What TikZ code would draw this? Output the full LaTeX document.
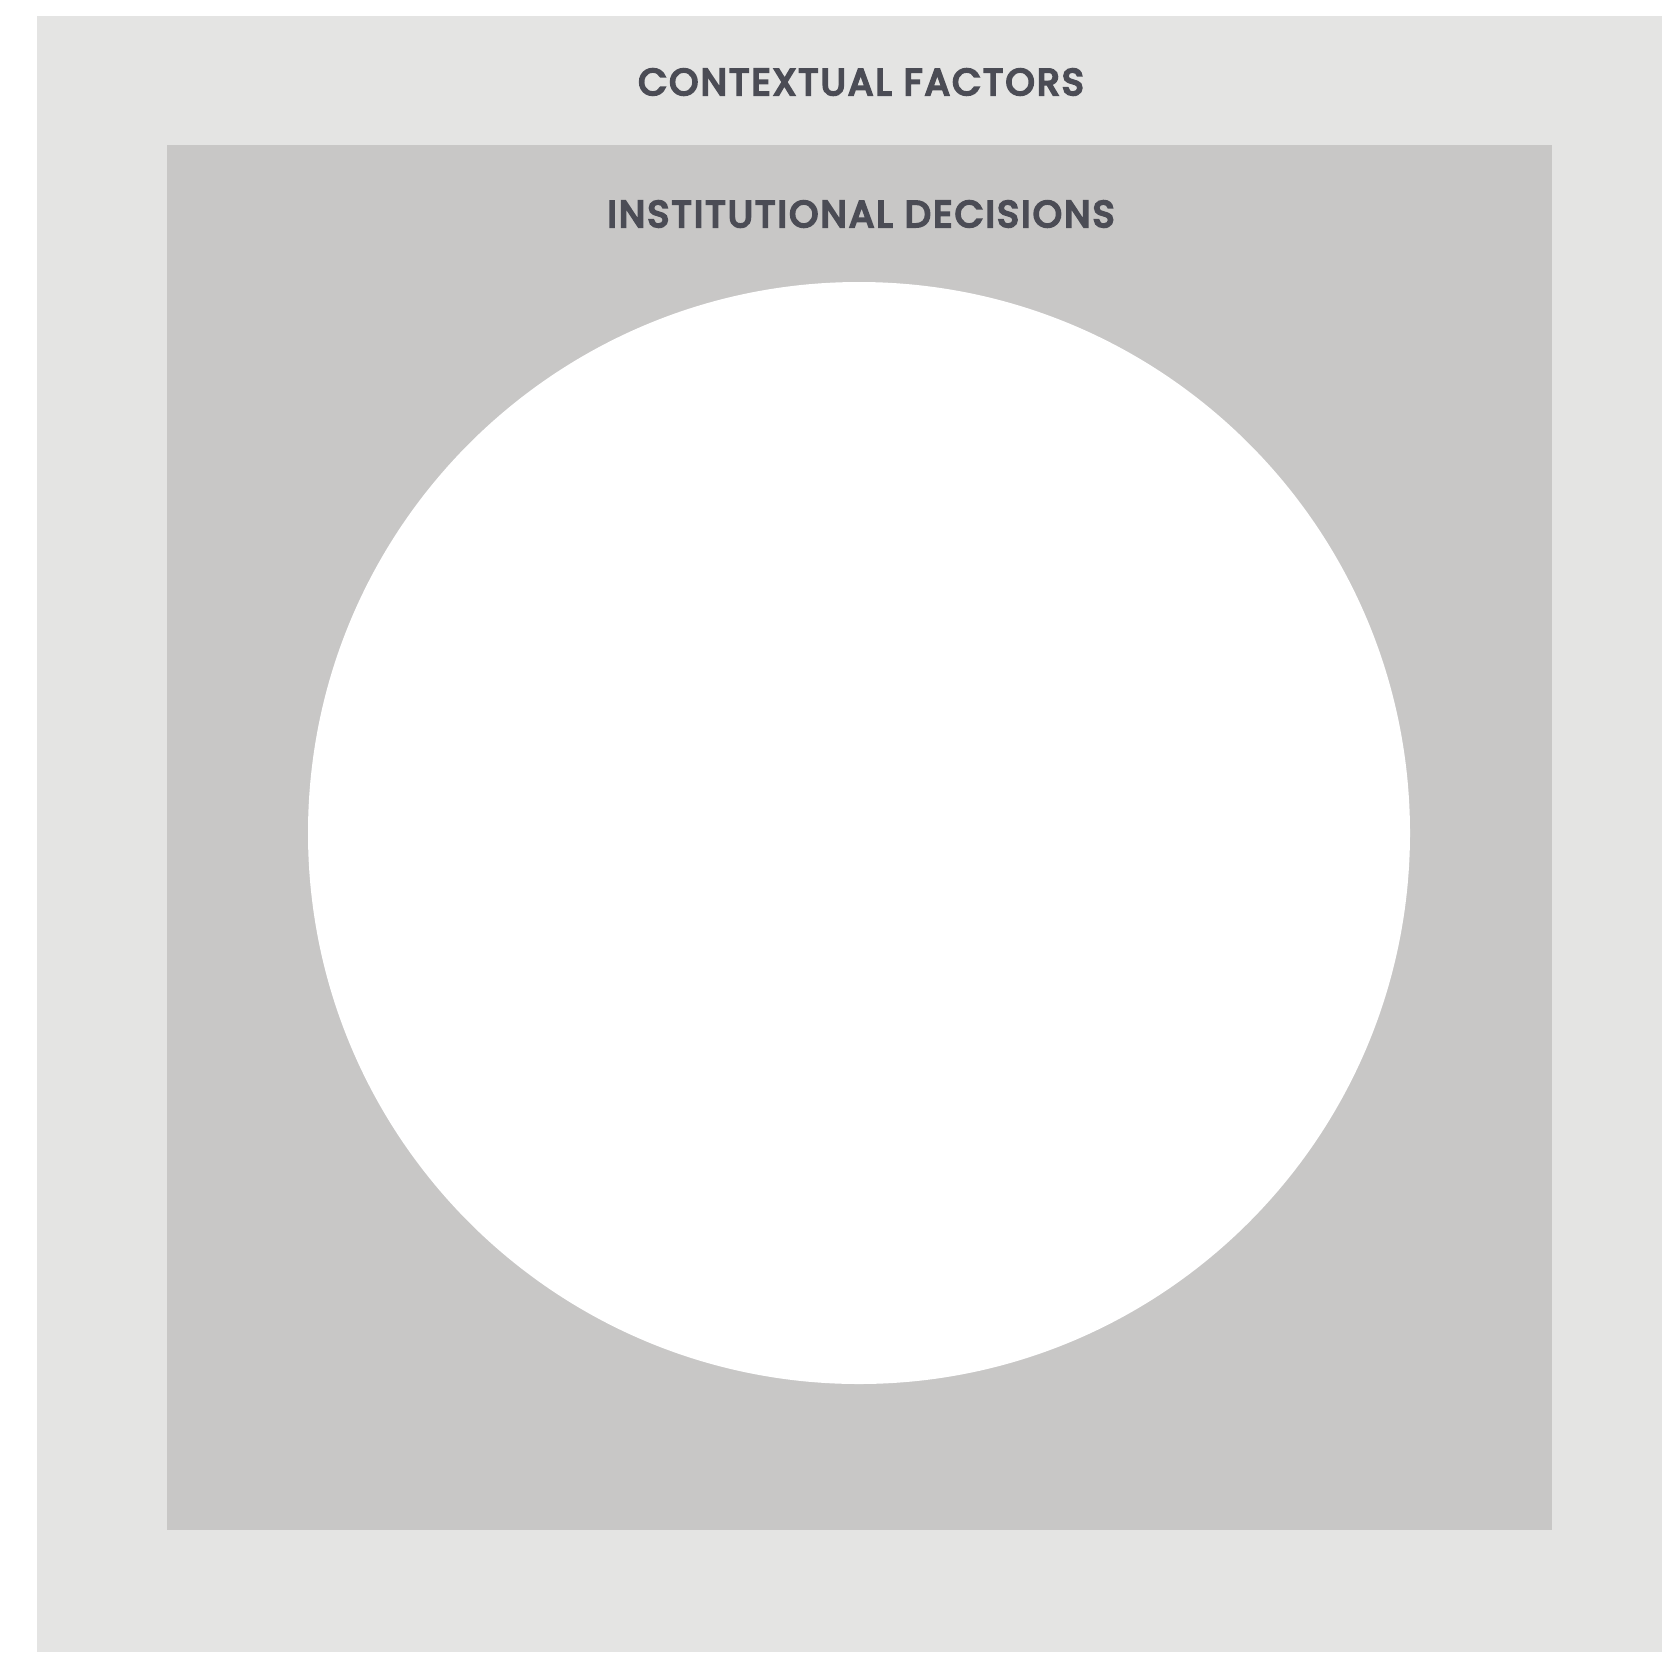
\documentclass[tikz,border=0pt]{standalone}
\usepackage{fontspec}
\setmainfont{Poppins}
\newfontfamily\ctxfont[FakeBold=6,LetterSpace=6.5]{Poppins}
\newfontfamily\instfont[FakeBold=6,LetterSpace=6.5]{Poppins}
\definecolor{outerbg}{HTML}{E4E4E3}
\definecolor{innerbg}{HTML}{C8C7C6}
\definecolor{labeltxt}{HTML}{4B4C55}
\begin{document}
\begin{tikzpicture}[x=1pt,y=-1pt,
  lbl/.style={text=labeltxt,inner sep=0pt,anchor=center}]
\useasboundingbox (0,0) rectangle (1662,1652);
\fill[white] (0,0) rectangle (1662,1652);
\fill[outerbg] (37,16) rectangle (1662,1652);
\fill[innerbg] (167,145) rectangle (1552,1530);
\node[circle,fill=white,minimum size=1102pt,inner sep=0pt] (core) at (859,833) {};
\node[lbl,font=\ctxfont\fontsize{37}{44}\selectfont] (ctx) at (861,82) {CONTEXTUAL FACTORS};
\node[lbl,font=\instfont\fontsize{37}{44}\selectfont] (inst) at (861,214) {INSTITUTIONAL DECISIONS};
\end{tikzpicture}
\end{document}
